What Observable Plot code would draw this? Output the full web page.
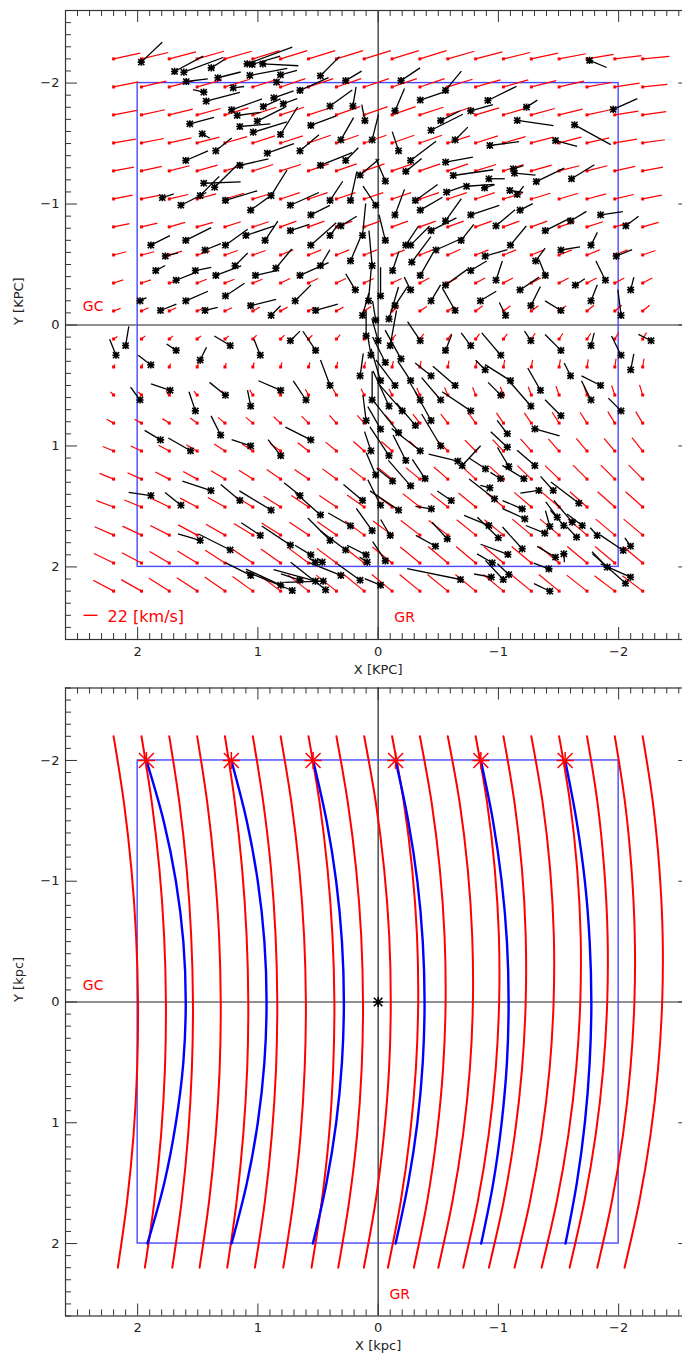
<!DOCTYPE html>
<html><head><meta charset="utf-8">
<script src="https://cdn.jsdelivr.net/npm/d3@7"></script>
<script src="https://cdn.jsdelivr.net/npm/@observablehq/plot@0.6"></script>
<style>
html,body{margin:0;padding:0;background:#fff;overflow:hidden;width:682px;height:1363px}
#chart svg{display:block;max-width:none !important;height:auto}
</style></head><body><div id="chart"></div>
<script>
// ---------- data ----------
const gridX = [2.2, 1.968, 1.737, 1.505, 1.274, 1.042, 0.811, 0.579, 0.347, 0.116, -0.116, -0.347, -0.579, -0.811, -1.042, -1.274, -1.505, -1.737, -1.968, -2.2];
const gridY = [-2.2, -1.968, -1.737, -1.505, -1.274, -1.042, -0.811, -0.579, -0.347, -0.116, 0.116, 0.347, 0.579, 0.811, 1.042, 1.274, 1.505, 1.737, 1.968, 2.2];
// model field, km/s: U along +X (towards GC) per row, V along +Y per row/column
const fieldU = [42, 39, 37, 35, 32, 30, 25, 20, 15, 11, 6, 2, -5, -11, -17, -22, -27, -30, -31, -32];
const fieldV = [
  [9,10,11,12,12,13,13,13,13,13,13,13,12,11,10,9,8,7,5,4],
  [8,9,10,11,12,12,13,13,13,13,13,13,12,11,11,10,9,7,6,4],
  [7,8,9,10,11,12,12,12,13,13,13,12,12,11,11,10,9,8,6,5],
  [6,7,8,9,10,11,11,12,12,12,12,12,11,11,10,9,9,8,6,5],
  [6,7,8,9,10,10,10,11,11,11,11,11,11,10,10,9,8,8,7,6],
  [6,6,7,8,9,9,10,10,10,10,10,10,10,10,9,9,9,8,7,6],
  [5,6,7,7,8,8,9,9,9,9,9,9,9,9,9,9,8,8,7,7],
  [5,5,6,6,7,7,8,8,8,8,8,8,9,8,8,8,8,8,8,7],
  [5,5,5,6,6,6,7,7,7,7,7,8,8,8,8,8,8,8,8,8],
  [4,5,5,5,5,6,6,6,6,7,7,7,7,8,8,8,8,9,9,9],
  [4,5,5,5,5,6,6,6,7,7,7,8,8,8,8,9,9,9,10,10],
  [4,5,5,6,6,7,7,7,8,8,9,9,10,10,11,11,12,12,13,13],
  [5,5,6,6,7,8,8,9,9,10,10,11,12,12,13,13,14,15,15,16],
  [6,6,7,8,9,9,10,11,12,12,13,14,14,15,16,16,17,17,18,18],
  [7,8,9,10,11,11,12,13,14,15,15,16,17,17,18,19,19,20,20,21],
  [9,10,11,12,13,14,15,15,16,17,18,18,19,20,20,21,21,22,22,22],
  [10,11,13,14,15,16,17,18,18,19,20,21,21,22,22,23,23,24,24,24],
  [13,14,15,16,17,18,19,20,21,22,22,23,23,24,24,25,25,25,25,25],
  [15,16,18,19,20,21,22,23,23,24,25,25,26,26,26,26,26,26,26,26],
  [17,18,20,21,22,23,24,25,25,26,26,26,26,26,26,26,26,25,24,24]
];
// observed stars: position (kpc) and velocity (km/s)
const starX = [1.970,1.693,1.616,1.388,1.596,1.333,1.450,1.430,1.566,1.463,1.450,1.360,1.795,1.089,1.047,0.959,1.067,0.812,1.205,0.845,0.955,0.867,0.789,1.219,1.172,1.005,1.150,1.039,0.812,0.922,-0.912,-1.234,-1.955,-1.157,-1.633,-0.929,-1.475,-1.758,-0.561,-0.625,-1.134,-1.124,-0.921,-1.315,-1.608,-0.735,-0.885,-0.569,-1.095,-1.157,-1.303,-1.074,-1.074,-1.303,-1.087,-0.893,-0.699,-0.663,-1.212,-1.018,-0.929,-1.336,-1.456,-1.669,-0.968,-0.608,-0.442,-1.198,-1.489,-1.544,-1.614,-1.697,-1.428,-1.220,-0.921,-1.386,-1.822,-1.650,-0.999,-0.477,-0.575,-1.198,-1.079,-1.475,-0.949,-1.420,-1.905,-2.038,-2.099,-2.099,-2.057,-1.428,-1.087,-1.040,-0.941,-0.685,-1.544,0.714,0.521,0.457,0.437,0.521,0.465,0.091,
  0.21,0.11,-0.14,0.05,-0.17,0.27,0.15,-0.06,-0.23,0.23,0.02,-0.14,-0.31,0.31,0.13,-0.06,-0.23,-0.44,0.23,0.05,-0.12,-0.28,0.19,0.08,-0.02,-0.14,-0.27,0.13,0.02,-0.09,0.10,0,-0.10,0.06,-0.06,-0.19,0.15,-0.02,-0.14,-0.27,0.05,-0.09,-0.20,-0.35,0.10,-0.02,-0.17,-0.31,-0.44,0.06,-0.09,-0.23,-0.35,-0.52,0.02,-0.12,-0.27,-0.39,0.13,-0.02,-0.17,0.23,0.05,-0.10,0.27,0.10,-0.06,0.31,0.15,-0.02,
  1.89,1.77,1.60,1.44,1.27,1.10,0.94,0.73,0.56,0.40,1.85,1.68,1.52,1.35,1.19,1.02,0.85,0.65,0.48,1.98,1.81,1.60,1.44,1.27,1.06,0.89,0.69,0.52,1.64,1.48,1.27,1.06,0.89,0.73,0.56,0.40,1.60,1.35,1.15,0.65,0.48,0.31,0.56,0.40,0.65,0.48,0.27,
  -0.35,-0.56,-0.77,-0.98,-1.18,-1.39,-1.60,-1.85,-2.06,-0.27,-0.48,-0.69,-0.89,-1.10,-1.31,-1.52,-1.77,-1.98,-0.35,-0.56,-0.77,-0.98,-1.18,-1.39,-1.64,-1.89,-2.10,-0.44,-0.64,-0.85,-1.06,-1.27,-1.52,-1.77,-2.02,-0.19,-0.35,-0.56,-0.77,-0.44,-0.64,-0.27,-0.52,
  2.18,2.10,1.89,1.68,1.48,1.23,0.98,0.73,0.52,1.98,1.73,1.52,1.27,1.06,0.81,0.60,0.40,1.81,1.56,1.31,1.06,0.81,0.56,1.89,1.64,1.39,1.15,0.89,0.65,0.48,1.48,1.23,0.98,0.73,0.56,0.40,1.06,0.81,0.65,
  -0.35,-0.56,-0.77,-1.02,-1.27,-1.52,-1.77,-2.02,-2.27,-0.44,-0.64,-0.89,-1.10,-1.35,-1.60,-1.85,-2.10,-0.52,-0.77,-1.02,-1.27,-1.52,-1.77,-2.02];
const starY = [-2.173,-2.096,-2.090,-2.126,-2.013,-2.044,-1.925,-1.850,-1.663,-1.581,-1.172,-1.139,-1.052,-2.159,-2.154,-2.159,-2.063,-2.068,-1.961,-2.007,-1.806,-1.878,-1.829,-1.779,-1.732,-1.685,-1.641,-1.594,-1.575,-1.420,-1.856,-1.801,-1.782,-1.691,-1.655,-1.484,-1.525,-2.187,-1.346,-1.236,-1.255,-1.291,-1.209,-1.186,-1.209,-1.147,-1.134,-1.098,-1.112,-1.079,0.858,0.899,1.010,1.162,1.170,1.189,1.162,1.126,1.271,1.271,1.346,1.368,1.368,1.473,1.437,1.451,1.520,1.520,1.589,1.658,1.630,1.658,1.666,1.602,1.658,1.721,1.740,1.754,1.759,1.829,1.768,1.850,1.897,1.920,1.966,2.016,2.002,1.864,1.829,2.085,2.135,2.201,2.063,2.104,2.085,2.104,1.892,2.195,2.118,2.118,2.189,1.961,1.961,1.961,
  -1.81,-1.69,-1.77,-1.53,-1.44,-1.36,-1.24,-1.19,-1.27,-1.03,-0.99,-0.91,-1.03,-0.82,-0.74,-0.70,-0.66,-0.78,-0.53,-0.49,-0.45,-0.52,-0.29,-0.20,-0.24,-0.16,-0.29,-0.08,-0.04,-0.05,0.09,0.13,0.17,0.25,0.31,0.28,0.42,0.46,0.50,0.46,0.62,0.67,0.71,0.62,0.79,0.86,0.89,0.83,0.79,1.04,1.08,1.12,1.04,1.00,1.24,1.29,1.33,1.27,1.45,1.49,1.53,1.66,1.70,1.74,1.86,1.90,1.95,2.07,2.11,2.15,
  -0.66,-0.57,-0.70,-0.62,-0.66,-0.74,-0.70,-0.78,-0.66,-0.74,-0.45,-0.37,-0.45,-0.41,-0.49,-0.41,-0.47,-0.41,-0.49,-0.20,-0.12,-0.20,-0.12,-0.24,-0.16,-0.08,-0.20,-0.12,-0.99,-1.07,-1.03,-0.95,-1.07,-0.99,-0.91,-1.03,-1.36,-1.44,-1.32,-1.44,-1.32,-1.53,-1.65,-1.81,-1.94,-2.06,-2.02,
  -0.95,-0.86,-0.91,-0.82,-0.95,-0.78,-0.86,-0.91,-0.82,-0.66,-0.62,-0.70,-0.57,-0.66,-0.53,-0.62,-0.66,-0.57,-0.41,-0.33,-0.45,-0.37,-0.29,-0.41,-0.33,-0.37,-0.29,-0.20,-0.12,-0.20,-0.08,-0.16,-0.12,-0.20,-0.08,-2.02,-1.86,-1.94,-1.77,-1.61,-1.53,-1.36,-1.69,
  0.25,0.17,0.33,0.21,0.29,0.17,0.25,0.13,0.21,0.62,0.54,0.71,0.58,0.67,0.54,0.62,0.50,0.95,1.04,0.91,1.00,1.08,0.95,1.41,1.49,1.37,1.45,1.53,1.41,1.57,1.78,1.86,1.74,1.82,1.90,1.78,2.07,2.15,2.11,
  0.13,0.21,0.17,0.25,0.13,0.21,0.17,0.25,0.13,0.42,0.50,0.37,0.46,0.54,0.42,0.50,0.37,0.62,0.71,0.58,0.67,0.75,0.62,0.71];
const starU = [33,45,62,21,34,36,-17,53,38,12,58,40,18,71,44,56,59,26,17,10,27,31,22,48,37,44,48,53,27,42,45,17,38,57,57,46,34,27,43,63,33,16,25,44,36,43,16,32,21,10,39,-16,-26,-28,-18,-26,29,-46,-34,-16,-15,-29,-20,-44,-40,-22,-25,-31,-18,-21,-29,-24,-7,-35,-39,-30,-11,-15,-33,-31,-24,-31,-43,-29,-24,-24,-24,-36,-9,-47,-52,-25,-18,-28,-27,-84,1,-73,-66,-61,-55,-10,-8,-12,
  5,-5,15,10,-10,20,30,-15,25,10,-20,15,35,25,5,-10,20,40,15,-5,10,30,-15,5,0,20,-10,10,-5,15,0,-10,10,-5,-20,-25,5,-15,-30,-20,0,-25,-35,-15,-5,-20,-40,-30,-25,-10,-30,-20,-45,-30,-15,-25,-35,-20,-30,-20,-45,-35,-25,-15,-40,-30,-20,-50,-35,-25,
  30,20,40,25,35,45,20,30,40,15,15,30,25,40,20,35,25,45,15,10,25,35,20,30,40,15,25,35,40,30,50,35,25,45,30,20,35,25,45,30,50,20,40,35,45,30,25,
  35,25,45,30,20,40,25,35,20,30,45,20,35,25,15,30,10,25,20,35,25,10,30,-10,15,-15,5,15,-20,25,-10,15,-25,10,-5,30,45,25,35,50,20,40,30,
  -10,5,-20,-15,10,-25,-10,15,-20,-15,-30,-10,-25,-5,-35,-20,-15,-25,-35,-15,-30,-20,-40,-35,-25,-45,-30,-50,-25,-40,-35,-50,-30,-45,-25,-35,-40,-55,-30,
  -20,10,-15,-30,-10,-25,5,-15,-20,-25,-35,-15,-40,-20,-10,-30,5,-30,-45,-20,-35,-25,-15,-20];
const starV = [31,24,23,13,4,9,4,14,10,-7,2,39,6,26,13,-3,11,7,2,0,12,11,8,17,5,22,4,16,43,15,22,11,17,-8,-31,6,-9,-11,8,9,-3,5,0,21,22,3,5,11,-3,13,-11,21,24,24,30,17,31,11,21,10,4,-4,22,33,31,15,4,13,24,24,34,18,25,16,16,12,12,16,32,17,26,34,16,17,14,9,24,24,13,21,46,12,17,30,5,17,-13,30,18,-2,43,6,6,8,
  30,25,35,40,30,20,25,35,20,45,30,40,25,15,50,40,30,20,35,55,30,40,25,60,45,30,20,35,30,50,40,35,55,30,40,45,35,50,40,30,45,55,40,25,40,35,50,35,45,30,45,40,35,50,35,20,40,30,25,40,30,20,35,25,30,15,30,20,25,10,
  15,5,20,10,25,15,30,10,35,20,8,12,5,15,20,8,30,20,25,5,10,15,5,20,10,15,25,10,20,30,15,25,40,20,15,30,15,20,10,25,20,35,15,25,20,30,15,
  20,35,15,25,10,20,15,5,15,30,20,25,10,30,20,5,20,10,35,25,15,30,20,25,10,30,20,25,35,15,20,30,15,25,40,20,15,30,10,25,20,30,15,
  25,30,15,10,20,15,25,15,30,20,10,30,20,25,15,30,40,15,20,30,10,25,20,5,20,15,25,30,20,35,10,25,20,30,15,35,20,25,10,
  30,25,20,35,15,25,20,30,10,20,30,15,25,35,20,15,25,35,30,20,40,25,30,20];

const boxX = [2, -2], boxY = [-2, 2];
const majorTicks = [-2, -1, 0, 1, 2];
const legendSpeed = 22; // km/s

// bottom panel: red rotation arcs, x (kpc) at the listed y levels (rows), one column per arc
const arcLevels = [-2.2, -1.65, -1.1, -0.55, 0, 0.55, 1.1, 1.65, 2.2];
const arcRows = [
  [2.2, 1.968, 1.737, 1.505, 1.274, 1.042, 0.811, 0.579, 0.347, 0.116, -0.116, -0.347, -0.579, -0.811, -1.042, -1.274, -1.505, -1.737, -1.968, -2.2],
  [2.114, 1.882, 1.653, 1.421, 1.191, 0.955, 0.721, 0.487, 0.252, 0.019, -0.214, -0.445, -0.678, -0.906, -1.134, -1.368, -1.596, -1.824, -2.053, -2.285],
  [2.052, 1.819, 1.592, 1.361, 1.131, 0.891, 0.656, 0.421, 0.183, -0.050, -0.283, -0.513, -0.745, -0.970, -1.196, -1.430, -1.655, -1.880, -2.107, -2.339],
  [2.013, 1.780, 1.555, 1.323, 1.094, 0.853, 0.616, 0.380, 0.141, -0.092, -0.323, -0.552, -0.782, -1.004, -1.227, -1.461, -1.684, -1.908, -2.134, -2.366],
  [1.997, 1.765, 1.540, 1.309, 1.080, 0.839, 0.601, 0.364, 0.126, -0.105, -0.333, -0.561, -0.788, -1.006, -1.227, -1.459, -1.681, -1.905, -2.131, -2.362],
  [2.004, 1.773, 1.549, 1.318, 1.089, 0.849, 0.611, 0.374, 0.137, -0.091, -0.314, -0.540, -0.763, -0.978, -1.197, -1.426, -1.647, -1.872, -2.098, -2.328],
  [2.034, 1.805, 1.580, 1.351, 1.122, 0.884, 0.645, 0.408, 0.175, -0.048, -0.265, -0.488, -0.706, -0.919, -1.136, -1.360, -1.582, -1.809, -2.036, -2.265],
  [2.088, 1.861, 1.634, 1.406, 1.177, 0.942, 0.705, 0.469, 0.241, 0.021, -0.188, -0.408, -0.618, -0.829, -1.044, -1.263, -1.486, -1.715, -1.944, -2.172],
  [2.165, 1.940, 1.712, 1.485, 1.255, 1.025, 0.789, 0.554, 0.332, 0.119, -0.081, -0.297, -0.500, -0.708, -0.921, -1.134, -1.359, -1.592, -1.822, -2.049]
];
// blue tracks (start marked by red asterisks at y = -2)
const trackLevels = [-2, -1.5, -1, -0.5, 0, 0.5, 1, 1.5, 2];
const trackRows = [
  [1.927, 1.221, 0.541, -0.145, -0.854, -1.555],
  [1.784, 1.093, 0.429, -0.250, -0.955, -1.650],
  [1.682, 1.001, 0.349, -0.326, -1.027, -1.719],
  [1.620, 0.946, 0.301, -0.371, -1.071, -1.759],
  [1.600, 0.928, 0.285, -0.386, -1.085, -1.773],
  [1.620, 0.946, 0.301, -0.371, -1.071, -1.759],
  [1.682, 1.001, 0.349, -0.326, -1.027, -1.719],
  [1.779, 1.092, 0.430, -0.250, -0.957, -1.652],
  [1.919, 1.219, 0.543, -0.145, -0.857, -1.558]
];

// ---------- build ----------
const kpcPerKms = 0.1162 / 22; // vector scale: 22 km/s legend length
const field = [];
gridY.forEach((y, k) => gridX.forEach((x, j) => field.push({x, y, u: fieldU[k], v: fieldV[k][j]})));
const stars = starX.map((x, i) => ({x, y: starY[i], u: starU[i], v: starV[i]}));
const arcs = [];
arcRows.forEach((row, li) => row.forEach((x, j) => arcs.push({id: j, x, y: arcLevels[li], o: li})));
const tracks = [];
trackRows.forEach((row, li) => row.forEach((x, j) => tracks.push({id: j, x, y: trackLevels[li], o: li})));

const ast = (k) => ({draw(ctx, size) {
  const r = Math.sqrt(size / Math.PI), d = r * k;
  ctx.moveTo(-r, 0); ctx.lineTo(r, 0); ctx.moveTo(0, -r); ctx.lineTo(0, r);
  ctx.moveTo(-d, -d); ctx.lineTo(d, d); ctx.moveTo(-d, d); ctx.lineTo(d, -d);
}});
const asterisk = ast(0.85);

const fmt = d => d < 0 ? "\u2212" + (-d) : String(d);
const minorTicks = d3.range(-26, 27).map(i => i / 10).filter(v => Math.abs(v - Math.round(v)) > 1e-6);
const W = 692, ML = 65, MR = 1.7;
const tc = "#333";
function axes(innerH, innerW, xl, yl) {
  return [
    Plot.ruleX(minorTicks, {x: d => d, insetTop: innerH - 6, stroke: tc}),
    Plot.ruleX(minorTicks, {x: d => d, insetBottom: innerH - 6, stroke: tc}),
    Plot.ruleX(majorTicks, {x: d => d, insetTop: innerH - 12, stroke: tc}),
    Plot.ruleX(majorTicks, {x: d => d, insetBottom: innerH - 12, stroke: tc}),
    Plot.ruleY(minorTicks, {y: d => d, insetRight: innerW - 6, stroke: tc}),
    Plot.ruleY(minorTicks, {y: d => d, insetLeft: innerW - 6, stroke: tc}),
    Plot.ruleY(majorTicks, {y: d => d, insetRight: innerW - 12, stroke: tc}),
    Plot.ruleY(majorTicks, {y: d => d, insetLeft: innerW - 12, stroke: tc}),
    Plot.frame({stroke: tc, strokeWidth: 1.2}),
    Plot.text(majorTicks, {x: d => d, frameAnchor: "bottom", dy: 16, text: fmt, fill: "#222", fontSize: 13}),
    Plot.text(majorTicks, {y: d => d, frameAnchor: "left", dx: -6, textAnchor: "end", text: fmt, fill: "#222", fontSize: 13}),
    Plot.text([xl], {frameAnchor: "bottom", dy: 34, text: d => d, fill: "#222", fontSize: 13}),
    Plot.text([yl], {frameAnchor: "left", dx: -47, rotate: -90, text: d => d, fill: "#222", fontSize: 13})
  ];
}
const common = {
  width: W, marginLeft: ML, marginRight: MR,
  x: {domain: [2.6, -2.6], axis: null},
  y: {domain: [-2.6, 2.6], reverse: true, axis: null},
  style: {fontFamily: "DejaVu Sans, sans-serif", background: "white", overflow: "visible", maxWidth: "none"}
};
const boxMark = Plot.rect([{x1: boxX[0], x2: boxX[1], y1: boxY[0], y2: boxY[1]}], {x1: "x1", x2: "x2", y1: "y1", y2: "y2", fill: "none", stroke: "#4848ff", strokeWidth: 1.4});
const cross = [Plot.ruleX([0], {stroke: "#222", strokeWidth: 1.2}), Plot.ruleY([0], {stroke: "#222", strokeWidth: 1.2})];

// top panel
const H1 = 680, mt1 = 10, mb1 = 41;
const topPanel = Plot.plot({
  ...common, height: H1, marginTop: mt1, marginBottom: mb1,
  marks: [
    ...cross,
    boxMark,
    Plot.link(field, {x1: d => d.x - d.u * kpcPerKms, y1: d => d.y - d.v * kpcPerKms, x2: "x", y2: "y", stroke: "red", strokeWidth: 1.2}),
    Plot.dot(field, {x: "x", y: "y", symbol: "square", r: 1.7, fill: "red"}),
    Plot.link(stars, {x1: d => d.x - d.u * kpcPerKms, y1: d => d.y - d.v * kpcPerKms, x2: "x", y2: "y", stroke: "black", strokeWidth: 1.3}),
    Plot.dot(stars, {x: "x", y: "y", symbol: asterisk, r: 3.6, stroke: "black", strokeWidth: 1.6}),
    Plot.text(["GC"], {x: 2.37, y: -0.15, text: d => d, fill: "red", fontSize: 14}),
    Plot.text(["GR"], {x: -0.22, y: 2.42, text: d => d, fill: "red", fontSize: 14}),
    Plot.link([legendSpeed], {x1: 2.45, x2: d => 2.45 - d * kpcPerKms, y1: 2.40, y2: 2.40, stroke: "red", strokeWidth: 1.4}),
    Plot.text([legendSpeed], {x: 2.25, y: 2.415, text: d => d + " [km/s]", textAnchor: "start", fill: "red", fontSize: 16}),
    ...axes(H1 - mt1 - mb1, W - ML - MR, "X [KPC]", "Y [KPC]")
  ]
});

// bottom panel
const H2 = 683, mt2 = 7.5, mb2 = 47.5;
const bottomPanel = Plot.plot({
  ...common, height: H2, marginTop: mt2, marginBottom: mb2,
  marks: [
    ...cross,
    boxMark,
    Plot.line(arcs, {x: "x", y: "y", z: "id", sort: "o", curve: "catmull-rom", stroke: "red", strokeWidth: 2}),
    Plot.line(tracks, {x: "x", y: "y", z: "id", sort: "o", curve: "catmull-rom", stroke: "#0000ff", strokeWidth: 2.4}),
    Plot.dot(trackRows[0], {x: d => d, y: () => trackLevels[0], symbol: ast(0.88), r: 8.5, stroke: "red", strokeWidth: 1.5}),
    Plot.dot([0], {x: d => d, y: d => d, symbol: asterisk, r: 5, stroke: "black", strokeWidth: 1.6}),
    Plot.text(["GC"], {x: 2.37, y: -0.14, text: d => d, fill: "red", fontSize: 14}),
    Plot.text(["GR"], {x: -0.18, y: 2.42, text: d => d, fill: "red", fontSize: 14}),
    ...axes(H2 - mt2 - mb2, W - ML - MR, "X [kpc]", "Y [kpc]")
  ]
});

document.getElementById("chart").append(topPanel, bottomPanel);
</script>
</body></html>
